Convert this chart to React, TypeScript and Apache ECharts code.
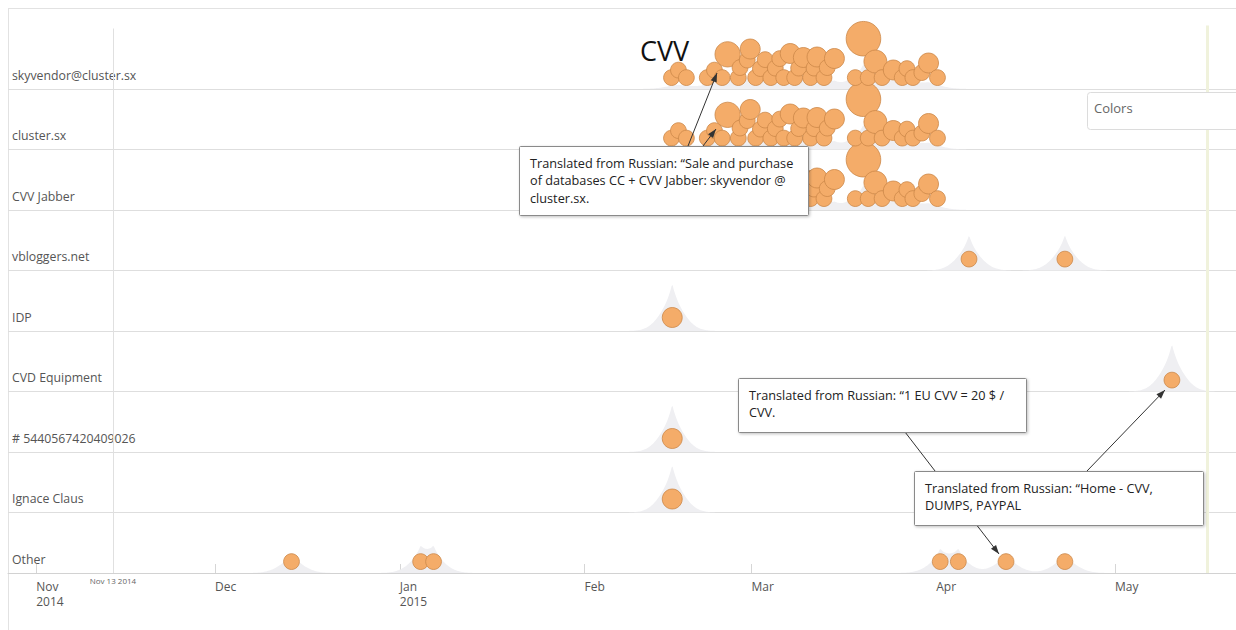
import { useEffect, useRef } from "react";
import * as echarts from "echarts";

// ---------- data ----------
// rows, bottom to top
const rows = [
  "Other",
  "Ignace Claus",
  "# 5440567420409026",
  "CVD Equipment",
  "IDP",
  "vbloggers.net",
  "CVV Jabber",
  "cluster.sx",
  "skyvendor@cluster.sx",
];

type Ev = [string, number]; // [date, mentions]

const cvvMarketEvents: Ev[] = [
  ["2015-02-15 14:00", 1],
  ["2015-02-16 18:00", 1],
  ["2015-02-18 02:00", 1],
  ["2015-02-21 14:00", 1],
  ["2015-02-22 19:00", 1],
  ["2015-02-24 02:00", 1],
  ["2015-02-25 00:00", 4],
  ["2015-02-26 19:00", 1],
  ["2015-02-27 02:00", 1],
  ["2015-02-28 07:00", 1],
  ["2015-02-28 19:00", 2],
  ["2015-03-01 17:00", 1],
  ["2015-03-02 12:00", 1],
  ["2015-03-03 07:00", 1],
  ["2015-03-04 06:00", 1],
  ["2015-03-05 00:00", 1],
  ["2015-03-05 18:00", 1],
  ["2015-03-06 10:00", 1],
  ["2015-03-07 12:00", 2],
  ["2015-03-08 06:00", 1],
  ["2015-03-08 22:00", 1],
  ["2015-03-09 17:00", 2],
  ["2015-03-10 22:00", 1],
  ["2015-03-11 12:00", 1],
  ["2015-03-12 00:00", 2],
  ["2015-03-13 04:00", 1],
  ["2015-03-13 17:00", 1],
  ["2015-03-14 22:00", 2],
  ["2015-03-18 10:00", 1],
  ["2015-03-19 19:00", 10],
  ["2015-03-20 14:00", 1],
  ["2015-03-21 19:00", 3],
  ["2015-03-22 22:00", 1],
  ["2015-03-24 19:00", 2],
  ["2015-03-26 07:00", 1],
  ["2015-03-27 02:00", 1],
  ["2015-03-28 02:00", 1],
  ["2015-03-29 14:00", 1],
  ["2015-03-30 17:00", 2],
  ["2015-04-01 05:00", 1],
];
const skyvendorEvents: Ev[] = cvvMarketEvents;
const clusterSxEvents: Ev[] = cvvMarketEvents;
const cvvJabberEvents: Ev[] = cvvMarketEvents;
const vbloggersEvents: Ev[] = [
  ["2015-04-06 12:00", 1],
  ["2015-04-22 14:00", 1],
];
const idpEvents: Ev[] = [["2015-02-15 17:00", 2]];
const cvdEquipmentEvents: Ev[] = [["2015-05-10 13:00", 1]];
const cardNumberEvents: Ev[] = [["2015-02-15 17:00", 2]];
const ignaceClausEvents: Ev[] = [["2015-02-15 17:00", 2]];
const otherEvents: Ev[] = [
  ["2014-12-13 20:00", 1],
  ["2015-01-04 12:00", 1],
  ["2015-01-06 16:00", 1],
  ["2015-04-01 16:00", 1],
  ["2015-04-04 17:00", 1],
  ["2015-04-12 17:00", 1],
  ["2015-04-22 14:00", 1],
];

const rowEvents: Ev[][] = [
  otherEvents,
  ignaceClausEvents,
  cardNumberEvents,
  cvdEquipmentEvents,
  idpEvents,
  vbloggersEvents,
  cvvJabberEvents,
  clusterSxEvents,
  skyvendorEvents,
];

const monthTicks = [
  "2014-11-01",
  "2014-12-01",
  "2015-01-01",
  "2015-02-01",
  "2015-03-01",
  "2015-04-01",
  "2015-05-01",
];
const monthLabels = ["Nov\n2014", "Dec", "Jan\n2015", "Feb", "Mar", "Apr", "May"];

const AXIS_START = "2014-10-27 06:30";
const AXIS_END = "2015-05-21 07:00";
const SELECTED_DATE = "2014-11-13 21:00";
const SELECTED_LABEL = "Nov 13 2014";
const TODAY_DATE = "2015-05-16 10:00";

// ---------- layout constants ----------
const W = 1236;
const H = 630;
const GRID_LEFT = 8;
const GRID_TOP = 8;
const GRID_BOTTOM = 57;
const GRID_W = W - GRID_LEFT;
const GRID_H = H - GRID_TOP - GRID_BOTTOM;
const ROW_PX = 60.5;
const Y_MAX = GRID_H / ROW_PX;

const FONT = "'Open Sans', 'Noto Sans', sans-serif";
const BUBBLE_FILL = "#f4ac69";
const BUBBLE_STROKE = "#cc8849";

const parse = (s: string) => echarts.number.parseDate(s).getTime();
const T_MIN = parse(AXIS_START);
const T_MAX = parse(AXIS_END);
const PX_PER_MS = GRID_W / (T_MAX - T_MIN);
const DAY = 86400000;
const TICK_VALUES = monthTicks.map(parse);

const radius = (c: number) => 7.9 * Math.pow(c, 0.34);

// simple swarm: small bubbles first, each at the lowest free height
function layoutRow(events: Ev[], row: number) {
  const items = events.map(([d, c]) => ({ t: parse(d), c, r: radius(c) }));
  const order = items.slice().sort((a, b) => a.c - b.c || a.t - b.t);
  const placed: { t: number; c: number; r: number; x: number; lift: number }[] = [];
  for (const it of order) {
    const x = (it.t - T_MIN) * PX_PER_MS;
    let lift = it.r + 3.5;
    for (let k = 0; k < 400; k++) {
      const hit = placed.some((p) => {
        const f = p.c <= 2 && it.c <= 2 ? 0.64 : 0.88;
        return Math.hypot(p.x - x, p.lift - lift) < f * (p.r + it.r);
      });
      if (!hit) break;
      lift += 0.5;
    }
    placed.push({ ...it, x, lift });
  }
  placed.sort((a, b) => a.t - b.t);
  return placed.map((p) => [p.t, row + p.lift / ROW_PX, p.c]);
}

const bubbleData = rowEvents.flatMap((evs, i) => layoutRow(evs, i));

// ---------- annotations ----------
function arrow(x1: number, y1: number, x2: number, y2: number, head: boolean) {
  const els: any[] = [
    {
      type: "line",
      z: 90,
      shape: { x1, y1, x2, y2 },
      style: { stroke: "#333", lineWidth: 1 },
      silent: true,
    },
  ];
  if (head) {
    const a = Math.atan2(y2 - y1, x2 - x1);
    const L = 9;
    const w = 3.2;
    const bx = x2 - L * Math.cos(a);
    const by = y2 - L * Math.sin(a);
    els.push({
      type: "polygon",
      z: 90,
      shape: {
        points: [
          [x2, y2],
          [bx + w * Math.sin(a), by - w * Math.cos(a)],
          [bx - w * Math.sin(a), by + w * Math.cos(a)],
        ],
      },
      style: { fill: "#333" },
      silent: true,
    });
  }
  return els;
}

function box(x: number, y: number, w: number, h: number, text: string) {
  return [
    {
      type: "rect",
      z: 95,
      shape: { x: x + 0.5, y: y + 0.5, width: w, height: h, r: 1 },
      style: {
        fill: "#fff",
        stroke: "#8a8a8a",
        lineWidth: 1,
        shadowBlur: 3,
        shadowOffsetX: 1,
        shadowOffsetY: 1,
        shadowColor: "rgba(0,0,0,0.25)",
      },
    },
    {
      type: "text",
      z: 96,
      x: x + 11,
      y: y + 8,
      style: {
        text,
        fill: "#222",
        font: `12.7px ${FONT}`,
        lineHeight: 17.5,
        verticalAlign: "top",
      },
    },
  ];
}

export default function App() {
  const ref = useRef<HTMLDivElement>(null);
  useEffect(() => {
    const chart = echarts.init(ref.current!, null, { renderer: "svg" });
    const splitColors = rows.map(() => "#dedede");
    splitColors.push("rgba(0,0,0,0)"); // value 9 (no line)
    splitColors.push("#e2e2e2"); // top edge

    chart.setOption({
      animation: false,
      backgroundColor: "#fff",
      grid: {
        left: GRID_LEFT,
        right: 0,
        top: GRID_TOP,
        bottom: GRID_BOTTOM,
        containLabel: false,
      },
      xAxis: {
        type: "value",
        min: T_MIN,
        max: T_MAX,
        splitLine: { show: false },
        axisLine: { lineStyle: { color: "#d2d2d2", width: 1 } },
        axisTick: {
          show: true,
          inside: true,
          length: 9,
          lineStyle: { color: "#d6d6d6" },
          customValues: TICK_VALUES,
        },
        axisLabel: {
          customValues: TICK_VALUES,
          formatter: (v: number) => {
            const i = TICK_VALUES.findIndex((m) => Math.abs(m - v) < DAY / 2);
            return i >= 0 ? monthLabels[i] : "";
          },
          align: "left",
          margin: 6,
          lineHeight: 15,
          color: "#555",
          fontSize: 12,
          fontFamily: FONT,
          hideOverlap: false,
        },
      },
      yAxis: {
        type: "value",
        min: 0,
        max: Y_MAX,
        interval: 1,
        axisLine: { show: false },
        axisTick: { show: false },
        splitLine: { show: true, lineStyle: { color: splitColors, width: 1 } },
        axisLabel: {
          inside: true,
          margin: 4,
          align: "left",
          verticalAlign: "bottom",
          padding: [0, 0, 7, 0],
          lineHeight: 14,
          color: "#555",
          fontSize: 12.3,
          fontFamily: FONT,
          formatter: (v: number) => (Number.isInteger(v) && v < rows.length ? rows[v] : ""),
        },
      },
      series: [
        {
          type: "custom",
          name: "density",
          z: 1,
          silent: true,
          data: rows.map((_, i) => [T_MIN, i]),
          renderItem: (_params: any, api: any) => {
            const row = api.value(1);
            const evs = rowEvents[row].map(([d, c]) => [parse(d), c]);
            const peak = 24 + 22 / evs.length;
            const step = DAY / 6;
            const samples: [number, number][] = [];
            let max = 0;
            for (let t = T_MIN; t <= T_MAX; t += step) {
              let d = 0;
              for (const [et, c] of evs) {
                const u = (t - et) / DAY;
                d += c * (0.55 * Math.exp(-Math.abs(u) / 1.0) + 0.45 * Math.exp(-(u * u) / (2 * 2.2 * 2.2)));
              }
              samples.push([t, d]);
              if (d > max) max = d;
            }
            const base = api.coord([T_MIN, row])[1];
            const pts: number[][] = [api.coord([T_MIN, row])];
            for (const [t, d] of samples) {
              const x = api.coord([t, row])[0];
              pts.push([x, base - (peak * d) / max]);
            }
            pts.push(api.coord([T_MAX, row]));
            return {
              type: "polygon",
              shape: { points: pts },
              style: { fill: "#efeff2" },
            };
          },
        },
        {
          type: "scatter",
          name: "mentions",
          z: 3,
          data: bubbleData,
          symbolSize: (v: number[]) => 2 * radius(v[2]),
          itemStyle: {
            color: BUBBLE_FILL,
            borderColor: BUBBLE_STROKE,
            borderWidth: 0.8,
            opacity: 1,
          },
          markLine: {
            silent: true,
            symbol: ["none", "none"],
            animation: false,
            data: [
              [
                {
                  coord: [parse(SELECTED_DATE), 0],
                  lineStyle: { color: "#e0e0e0", width: 1, type: "solid" },
                  label: {
                    show: true,
                    position: "start",
                    formatter: SELECTED_LABEL,
                    fontSize: 8,
                    color: "#666",
                    fontFamily: FONT,
                    distance: 3,
                  },
                },
                { coord: [parse(SELECTED_DATE), 9] },
              ],
              [
                {
                  coord: [parse(TODAY_DATE), 0],
                  lineStyle: { color: "#f0f2dc", width: 3, type: "solid" },
                  label: { show: false },
                },
                { coord: [parse(TODAY_DATE), 9.05] },
              ],
            ],
          },
        },
      ],
      graphic: [
        {
          type: "rect",
          z: 0,
          silent: true,
          shape: { x: 8.5, y: 8.5, width: 1300, height: 700 },
          style: { fill: "none", stroke: "#e2e2e2", lineWidth: 1 },
        },
        {
          type: "text",
          z: 96,
          x: 640,
          y: 50,
          style: {
            text: "CVV",
            fill: "#111",
            font: `27px ${FONT}`,
            verticalAlign: "middle",
          },
        },
        {
          type: "rect",
          z: 95,
          shape: { x: 1087.5, y: 92.5, width: 170, height: 37, r: 3 },
          style: { fill: "#fff", stroke: "#dcdcdc", lineWidth: 1 },
        },
        {
          type: "text",
          z: 96,
          x: 1094,
          y: 108,
          style: {
            text: "Colors",
            fill: "#666",
            font: `13px ${FONT}`,
            verticalAlign: "middle",
          },
        },
        ...arrow(688, 146, 717, 73, true),
        ...arrow(703, 146, 716, 129, true),
        ...arrow(905, 432, 999, 554, true),
        ...arrow(1087, 471, 1165, 390, true),
        ...box(
          519,
          146,
          289,
          69,
          "Translated from Russian: \u201cSale and purchase\nof databases CC + CVV Jabber: skyvendor @\ncluster.sx."
        ),
        ...box(738, 378, 288, 54, "Translated from Russian: \u201c1 EU CVV = 20 $ /\nCVV."),
        ...box(914, 471, 289, 54, "Translated from Russian: \u201cHome - CVV,\nDUMPS, PAYPAL"),
      ],
    });
    return () => chart.dispose();
  }, []);
  return (
    <div
      ref={ref}
      style={{ position: "fixed", left: 0, top: 0, width: W, height: H, background: "#fff" }}
    />
  );
}
